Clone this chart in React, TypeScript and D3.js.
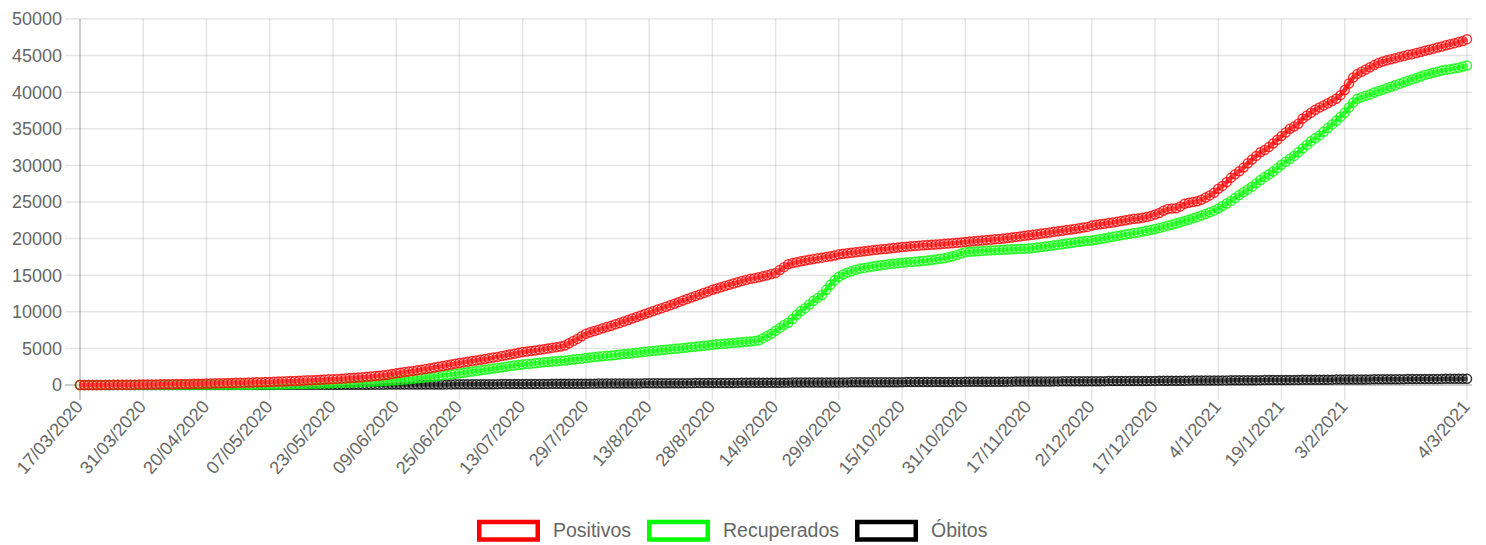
import { useEffect, useRef } from 'react';
import * as d3 from 'd3';

const tickLabels = [
  '17/03/2020', '31/03/2020', '20/04/2020', '07/05/2020', '23/05/2020', '09/06/2020',
  '25/06/2020', '13/07/2020', '29/7/2020', '13/8/2020', '28/8/2020', '14/9/2020',
  '29/9/2020', '15/10/2020', '31/10/2020', '17/11/2020', '2/12/2020', '17/12/2020',
  '4/1/2021', '19/1/2021', '3/2/2021', '4/3/2021',
];

const yTicks = [0, 5000, 10000, 15000, 20000, 25000, 30000, 35000, 40000, 45000, 50000];

// one value per record (330 records)
const positivos = [
  1, 2, 4, 6, 8, 11, 14, 17, 21, 25, 30, 35, 41, 47, 54,
  60, 66, 73, 80, 88, 96, 104, 112, 120, 128, 137, 146, 156, 167, 183,
  200, 212, 225, 238, 252, 266, 280, 294, 308, 322, 336, 351, 367, 385, 402,
  420, 440, 462, 485, 508, 531, 555, 580, 606, 632, 658, 685, 712, 740, 770,
  800, 835, 870, 905, 940, 980, 1020, 1065, 1110, 1160, 1215, 1275, 1340, 1410, 1500,
  1600, 1680, 1760, 1840, 1925, 2010, 2100, 2190, 2280, 2380, 2480, 2580, 2690, 2800, 2900,
  3000, 3090, 3180, 3270, 3360, 3450, 3540, 3640, 3740, 3840, 3950, 4060, 4170, 4280, 4390,
  4500, 4570, 4650, 4720, 4800, 4900, 4990, 5080, 5170, 5260, 5400, 5700, 6000, 6300, 6650,
  7000, 7200, 7380, 7560, 7740, 7920, 8100, 8290, 8480, 8680, 8880, 9080, 9280, 9480, 9690,
  9900, 10100, 10300, 10500, 10700, 10900, 11110, 11320, 11530, 11740, 11950, 12160, 12370, 12580, 12790,
  13000, 13180, 13360, 13530, 13700, 13870, 14040, 14200, 14360, 14500, 14600, 14720, 14850, 14990, 15150,
  15300, 15700, 16100, 16500, 16650, 16780, 16900, 17000, 17100, 17200, 17300, 17400, 17500, 17600, 17700,
  17850, 17920, 17990, 18060, 18130, 18200, 18270, 18340, 18410, 18470, 18530, 18590, 18650, 18710, 18780,
  18850, 18900, 18950, 19000, 19040, 19080, 19120, 19160, 19200, 19240, 19300, 19340, 19380, 19420, 19480,
  19550, 19600, 19650, 19700, 19750, 19800, 19850, 19900, 19950, 20010, 20080, 20150, 20220, 20300, 20380,
  20450, 20520, 20600, 20680, 20760, 20840, 20920, 21000, 21080, 21160, 21240, 21320, 21410, 21500, 21600,
  21800, 21880, 21960, 22040, 22120, 22200, 22300, 22400, 22500, 22600, 22700, 22750, 22850, 22950, 23100,
  23300, 23500, 23800, 24050, 24100, 24150, 24400, 24750, 24900, 25000, 25100, 25300, 25600, 25900, 26250,
  26800, 27200, 27700, 28300, 28800, 29200, 29700, 30300, 30800, 31300, 31800, 32100, 32500, 33000, 33500,
  34000, 34500, 35000, 35300, 35700, 36400, 36800, 37200, 37600, 37900, 38200, 38500, 38800, 39100, 39600,
  40300, 41200, 42000, 42500, 42800, 43100, 43400, 43700, 44000, 44200, 44350, 44500, 44650, 44800, 44950,
  45100, 45200, 45350, 45500, 45650, 45800, 45950, 46100, 46250, 46400, 46550, 46700, 46850, 47000, 47250,
];

const recuperados = [
  0, 0, 0, 0, 1, 1, 1, 2, 2, 2, 3, 3, 4, 4, 5,
  5, 6, 7, 8, 9, 10, 11, 12, 13, 14, 15, 16, 17, 18, 19,
  20, 22, 24, 26, 28, 30, 32, 34, 36, 38, 41, 44, 48, 52, 56,
  60, 68, 76, 85, 95, 105, 115, 126, 138, 150, 163, 177, 192, 210, 230,
  250, 270, 290, 310, 330, 350, 370, 395, 420, 445, 470, 500, 530, 565, 600,
  650, 700, 750, 800, 860, 920, 980, 1040, 1100, 1170, 1240, 1310, 1380, 1450, 1520,
  1600, 1680, 1760, 1840, 1920, 2000, 2080, 2160, 2240, 2320, 2400, 2500, 2580, 2660, 2740,
  2800, 2860, 2920, 2980, 3040, 3100, 3150, 3200, 3250, 3300, 3350, 3420, 3480, 3540, 3600,
  3700, 3760, 3820, 3880, 3930, 3980, 4040, 4100, 4160, 4220, 4280, 4340, 4400, 4460, 4530,
  4600, 4660, 4720, 4780, 4830, 4890, 4950, 5000, 5060, 5120, 5180, 5240, 5300, 5360, 5430,
  5500, 5550, 5600, 5650, 5700, 5750, 5800, 5850, 5900, 5950, 6000, 6100, 6400, 6700, 7000,
  7400, 7800, 8200, 8500, 9000, 9600, 10100, 10500, 11000, 11500, 11900, 12300, 13000, 13700, 14300,
  14800, 15100, 15350, 15550, 15750, 15900, 16000, 16100, 16200, 16280, 16360, 16440, 16520, 16580, 16640,
  16700, 16750, 16800, 16850, 16900, 16950, 17000, 17080, 17160, 17240, 17300, 17450, 17600, 17750, 17950,
  18150, 18200, 18240, 18280, 18320, 18360, 18390, 18420, 18450, 18480, 18510, 18540, 18570, 18600, 18620,
  18650, 18720, 18790, 18860, 18930, 19000, 19080, 19160, 19240, 19320, 19400, 19480, 19560, 19640, 19700,
  19750, 19850, 19950, 20050, 20150, 20250, 20350, 20450, 20550, 20650, 20750, 20850, 20950, 21070, 21180,
  21300, 21450, 21600, 21750, 21900, 22060, 22230, 22400, 22580, 22770, 22960, 23160, 23370, 23590, 23820,
  24100, 24450, 24800, 25150, 25550, 25950, 26350, 26700, 27100, 27550, 28000, 28400, 28750, 29150, 29600,
  30100, 30500, 30900, 31300, 31800, 32300, 32800, 33300, 33700, 34100, 34600, 35100, 35600, 36100, 36650,
  37200, 37900, 38600, 39100, 39300, 39500, 39700, 39950, 40150, 40350, 40550, 40750, 40950, 41150, 41350,
  41550, 41750, 41950, 42150, 42350, 42500, 42650, 42800, 42950, 43050, 43150, 43250, 43350, 43500, 43650,
];

const obitos = [
  0, 0, 0, 0, 0, 0, 0, 1, 1, 1, 1, 1, 2, 2, 2,
  2, 3, 3, 3, 4, 4, 4, 5, 5, 5, 6, 6, 7, 7, 8,
  8, 9, 9, 10, 10, 11, 11, 12, 12, 13, 13, 14, 14, 15, 15,
  16, 17, 18, 19, 20, 21, 22, 23, 24, 25, 26, 27, 28, 29, 30,
  31, 33, 34, 36, 37, 39, 40, 42, 44, 45, 47, 48, 50, 52, 54,
  56, 58, 60, 62, 64, 66, 68, 70, 72, 75, 77, 80, 82, 85, 88,
  90, 93, 96, 99, 102, 105, 108, 111, 114, 117, 120, 123, 126, 129, 132,
  135, 138, 141, 144, 147, 150, 153, 156, 159, 162, 165, 168, 171, 174, 177,
  180, 183, 186, 189, 192, 195, 198, 201, 204, 207, 210, 213, 216, 219, 222,
  225, 228, 231, 234, 237, 240, 243, 246, 249, 252, 255, 258, 261, 264, 267,
  270, 273, 276, 279, 282, 285, 288, 291, 294, 297, 300, 303, 306, 309, 312,
  315, 317, 320, 322, 325, 327, 330, 332, 335, 337, 340, 342, 345, 347, 350,
  352, 355, 357, 360, 362, 365, 367, 370, 372, 375, 377, 380, 382, 385, 387,
  390, 393, 395, 398, 400, 403, 405, 408, 410, 413, 415, 418, 420, 423, 425,
  428, 431, 434, 437, 440, 443, 446, 449, 452, 455, 458, 461, 464, 467, 470,
  473, 476, 479, 482, 485, 488, 491, 494, 497, 500, 503, 506, 509, 512, 515,
  518, 521, 524, 527, 530, 533, 536, 539, 542, 545, 548, 551, 554, 557, 560,
  563, 567, 571, 575, 579, 583, 587, 591, 595, 599, 603, 607, 611, 615, 619,
  623, 627, 631, 635, 639, 643, 647, 651, 655, 659, 663, 667, 671, 675, 679,
  683, 687, 691, 695, 699, 703, 707, 711, 715, 719, 723, 727, 731, 735, 739,
  743, 747, 751, 755, 759, 763, 767, 771, 775, 779, 783, 787, 791, 795, 799,
  803, 807, 811, 815, 819, 823, 827, 831, 835, 839, 843, 847, 851, 855, 860,
];

const series = [
  { label: 'Positivos', color: '#ff0000', values: positivos },
  { label: 'Recuperados', color: '#00ff00', values: recuperados },
  { label: 'Óbitos', color: '#000000', values: obitos },
];

const W = 1486;
const H = 545;
const FONT = '"Liberation Sans", Arial, Helvetica, sans-serif';
const TICK_EVERY = 15;

export default function App() {
  const svgRef = useRef<SVGSVGElement>(null);

  useEffect(() => {
    if (!svgRef.current) return;
    const svg = d3.select(svgRef.current);
    svg.selectAll('*').remove();

    const n = positivos.length;
    const idx = d3.range(n);
    const x = d3.scalePoint<number>().domain(idx).range([80, 1467]);
    const y = d3.scaleLinear().domain([0, 50000]).range([385, 19]);

    const left = 80;
    const right = 1472;

    // horizontal grid + y labels
    const gy = svg.append('g');
    gy.selectAll('line')
      .data(yTicks)
      .join('line')
      .attr('x1', left - 15).attr('x2', right)
      .attr('y1', (d) => y(d)).attr('y2', (d) => y(d))
      .attr('stroke', (d) => (d === 0 ? 'rgba(0,0,0,0.25)' : 'rgba(0,0,0,0.1)'))
      .attr('stroke-width', 1.5);
    gy.selectAll('text')
      .data(yTicks)
      .join('text')
      .attr('x', left - 18).attr('y', (d) => y(d)).attr('dy', '0.35em')
      .attr('text-anchor', 'end')
      .attr('font-family', FONT).attr('font-size', 18).attr('fill', '#666')
      .text((d) => String(d));

    // vertical grid + rotated x labels
    const tickIdx = tickLabels.map((_, i) => (i === tickLabels.length - 1 ? n - 1 : i * TICK_EVERY));
    const gx = svg.append('g');
    gx.selectAll('line')
      .data(tickIdx)
      .join('line')
      .attr('x1', (d) => x(d)!).attr('x2', (d) => x(d)!)
      .attr('y1', y(50000)).attr('y2', y(0) + 15)
      .attr('stroke', (d, i) => (i === 0 ? 'rgba(0,0,0,0.25)' : 'rgba(0,0,0,0.1)'))
      .attr('stroke-width', 1.5);
    gx.selectAll('text')
      .data(tickIdx)
      .join('text')
      .attr('transform', (d) => `translate(${x(d)! - 1},${y(0) + 18}) rotate(-49)`)
      .attr('dy', '0.35em')
      .attr('text-anchor', 'end')
      .attr('font-family', FONT).attr('font-size', 18).attr('fill', '#666')
      .text((_, i) => tickLabels[i]);

    // datasets, last one drawn first
    const line = d3.line<number>().x((_, i) => x(i)!).y((d) => y(d));
    [...series].reverse().forEach((s) => {
      const g = svg.append('g');
      g.append('path')
        .attr('d', line(s.values))
        .attr('fill', 'none')
        .attr('stroke', s.color)
        .attr('stroke-width', 4.5)
        .attr('stroke-linejoin', 'round');
      g.selectAll('circle')
        .data(s.values)
        .join('circle')
        .attr('cx', (_, i) => x(i)!)
        .attr('cy', (d) => y(d))
        .attr('r', 4.5)
        .attr('fill', 'rgba(255,255,255,0.15)')
        .attr('stroke', s.color)
        .attr('stroke-width', 1.5)
        .attr('stroke-opacity', 0.8);
    });

    // legend
    const legend = svg.append('g');
    const boxW = 63;
    const gap = 13;
    const pad = 16;
    let cx = 477;
    series.forEach((s) => {
      legend.append('rect')
        .attr('x', cx + 2.25).attr('y', 522).attr('width', boxW - 4.5).attr('height', 17.5)
        .attr('fill', '#fff').attr('stroke', s.color).attr('stroke-width', 4.5);
      const t = legend.append('text')
        .attr('x', cx + boxW + gap).attr('y', 530).attr('dy', '0.35em')
        .attr('font-family', FONT).attr('font-size', 19.5).attr('fill', '#666')
        .text(s.label);
      const w = (t.node() as SVGTextElement).getComputedTextLength();
      cx += boxW + gap + w + pad;
    });
  }, []);

  return (
    <svg
      ref={svgRef}
      width={W}
      height={H}
      style={{ position: 'absolute', left: 0, top: 0, background: '#fff' }}
    />
  );
}
